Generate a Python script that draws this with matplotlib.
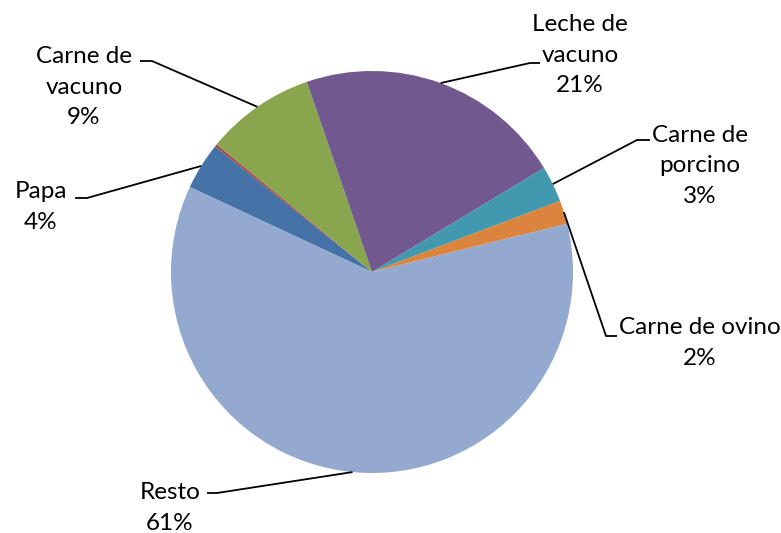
import matplotlib.pyplot as plt
import numpy as np

# Datos (porcentajes, sentido horario)
categorias = ["Papa", "Otros", "Carne de\nvacuno", "Leche de\nvacuno", "Carne de\nporcino", "Carne de ovino", "Resto"]
valores = [3.8, 0.2, 8.8, 21.6, 2.9, 1.9, 60.8]
etiquetas = ["Papa\n4%", None, "Carne de\nvacuno\n9%", "Leche de\nvacuno\n21%", "Carne de\nporcino\n3%",
             "Carne de ovino\n2%", "Resto\n61%"]
colores = ["#4572A7", "#AA4643", "#89A54E", "#71588F", "#4198AF", "#DB843D", "#93A9CF"]

# Posición de cada etiqueta (pixeles) y codo de la línea guía
pos_texto = [(41, 207), None, (84, 87), (580, 55), (700, 166), (700, 343), (170, 508)]
codo = [(87, 198, 75), None, (152, 61, 140), (530, 63, 540), (637, 140, 650), (606, 336, 617), (217, 493, 207)]

W, H = 781, 533
fig = plt.figure(figsize=(W / 100, H / 100), dpi=100)
ax = fig.add_axes([0, 0, 1, 1])

cx, cy, r = 372, H - 272, 201
wedges, _ = ax.pie(valores, colors=colores, startangle=155, counterclock=False,
                   center=(cx, cy), radius=r, wedgeprops=dict(linewidth=0))
ax.set_xlim(0, W)
ax.set_ylim(0, H)
ax.set_aspect("equal")
ax.axis("off")

for w, lab, pt, cd in zip(wedges, etiquetas, pos_texto, codo):
    if lab is None:
        continue
    ang = np.deg2rad((w.theta1 + w.theta2) / 2)
    ax0 = cx + r * np.cos(ang)
    ay0 = cy + r * np.sin(ang)
    ex, ey, hx = cd
    ax.plot([ax0, ex, hx], [ay0, H - ey, H - ey], color="black", lw=1.3, solid_capstyle="butt")
    ax.text(pt[0], H - pt[1], lab, ha="center", va="center", fontsize=17.5,
            family=["Lato", "DejaVu Sans"], linespacing=1.55, color="black")

fig.savefig("out.png", dpi=100)
